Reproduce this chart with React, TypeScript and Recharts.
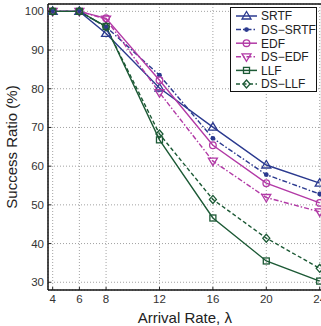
import React from 'react';
import { LineChart, Line, XAxis, YAxis, CartesianGrid, ReferenceLine } from 'recharts';

const lambdas = [4, 6, 8, 12, 16, 20, 24];
const srtf = [100, 100, 94.3, 80.2, 70.1, 60.3, 55.6];
const dsSrtf = [100, 100, 96, 83.5, 67.2, 57.8, 52.8];
const edf = [100, 100, 98.2, 82.2, 65.4, 55.6, 50.5];
const dsEdf = [100, 100, 98, 79, 61.3, 51.9, 48.2];
const llf = [100, 100, 96.1, 66.8, 46.6, 35.5, 30.3];
const dsLlf = [100, 100, 96, 68.3, 51.4, 41.4, 33.6];

const xTicks = [4, 6, 8, 12, 16, 20, 24];
const yTicks = [30, 40, 50, 60, 70, 80, 90, 100];
const X_MIN = 3.65;
const X_MAX = 24.15;
const Y_MIN = 28;
const Y_MAX = 101.9;

const NAVY = '#2b3a8f';
const MAGENTA = '#b23aa6';
const GREEN = '#1d5a36';
const FONT = '"Liberation Sans", Arial, sans-serif';

const data = lambdas.map((l, i) => ({
  lambda: l,
  srtf: srtf[i],
  dsSrtf: dsSrtf[i],
  edf: edf[i],
  dsEdf: dsEdf[i],
  llf: llf[i],
  dsLlf: dsLlf[i],
}));

type Shape = 'triUp' | 'dot' | 'circle' | 'triDown' | 'square' | 'diamond';

function Marker({ cx, cy, shape, color }: { cx: number; cy: number; shape: Shape; color: string }) {
  const sw = 1.3;
  switch (shape) {
    case 'triUp':
      return <polygon points={`${cx},${cy - 4.5} ${cx - 4.5},${cy + 3} ${cx + 4.5},${cy + 3}`} fill="none" stroke={color} strokeWidth={sw} />;
    case 'triDown':
      return <polygon points={`${cx},${cy + 4.5} ${cx - 4.5},${cy - 3} ${cx + 4.5},${cy - 3}`} fill="none" stroke={color} strokeWidth={sw} />;
    case 'dot':
      return <circle cx={cx} cy={cy} r={2.4} fill={color} stroke="none" />;
    case 'circle':
      return <circle cx={cx} cy={cy} r={3.3} fill="none" stroke={color} strokeWidth={sw} />;
    case 'square':
      return <rect x={cx - 3} y={cy - 3} width={6} height={6} fill="none" stroke={color} strokeWidth={sw} />;
    case 'diamond':
      return <polygon points={`${cx},${cy - 4} ${cx + 3.5},${cy} ${cx},${cy + 4} ${cx - 3.5},${cy}`} fill="none" stroke={color} strokeWidth={sw} />;
  }
  return null;
}

const makeDot = (shape: Shape, color: string) => (props: any) => {
  const { cx, cy, index } = props;
  if (cx == null || cy == null) return <g key={index} />;
  return (
    <g key={`${shape}-${index}`}>
      <Marker cx={cx} cy={cy} shape={shape} color={color} />
    </g>
  );
};

function XTick(props: any) {
  const { x, y, payload } = props;
  return (
    <g>
      <line x1={x} y1={y} x2={x} y2={y - 3} stroke="#222" strokeWidth={1} />
      <text x={x} y={y + 12.5} textAnchor="middle" fontSize={11.5} fill="#333" fontFamily={FONT}>
        {payload.value}
      </text>
    </g>
  );
}

function YTick(props: any) {
  const { x, y, payload } = props;
  return (
    <g>
      <line x1={x} y1={y} x2={x + 3} y2={y} stroke="#222" strokeWidth={1} />
      <text x={x - 4} y={y + 4} textAnchor="end" fontSize={11.5} fill="#333" fontFamily={FONT}>
        {payload.value}
      </text>
    </g>
  );
}

const legendItems: { name: string; color: string; dash?: string; shape: Shape }[] = [
  { name: 'SRTF', color: NAVY, shape: 'triUp' },
  { name: 'DS−SRTF', color: NAVY, dash: '5 2 1.5 2', shape: 'dot' },
  { name: 'EDF', color: MAGENTA, shape: 'circle' },
  { name: 'DS−EDF', color: MAGENTA, dash: '5 2 1.5 2', shape: 'triDown' },
  { name: 'LLF', color: GREEN, shape: 'square' },
  { name: 'DS−LLF', color: GREEN, dash: '4 2.5', shape: 'diamond' },
];

function ChartLegend() {
  return (
    <div
      style={{
        position: 'absolute',
        left: 230,
        top: 7,
        width: 87,
        height: 85,
        background: '#fff',
        border: '1px solid #111',
        boxSizing: 'border-box',
      }}
    >
      <svg width={87} height={85} style={{ position: 'absolute', left: -1, top: -1 }}>
        {legendItems.map((it, i) => {
          const cy = 9 + i * 13.6;
          return (
            <g key={it.name}>
              <line x1={6} y1={cy} x2={27} y2={cy} stroke={it.color} strokeWidth={1.5} strokeDasharray={it.dash} />
              <Marker cx={16.5} cy={cy} shape={it.shape} color={it.color} />
              <text x={31} y={cy + 4.3} fontSize={12} fill="#222" fontFamily={FONT}>
                {it.name}
              </text>
            </g>
          );
        })}
      </svg>
    </div>
  );
}

export default function App() {
  return (
    <div
      style={{
        position: 'absolute',
        left: 0,
        top: 0,
        width: 321,
        height: 326,
        overflow: 'hidden',
        background: '#fff',
        fontFamily: FONT,
      }}
    >
      <LineChart
        width={340}
        height={326}
        data={data}
        margin={{ top: 4, right: 18.3, left: 0, bottom: 0 }}
      >
        <CartesianGrid stroke="#8a8a8a" strokeDasharray="1 2" strokeWidth={0.8} />
        <XAxis
          dataKey="lambda"
          type="number"
          domain={[X_MIN, X_MAX]}
          ticks={xTicks}
          allowDataOverflow
          height={36}
          tickLine={false}
          tickSize={0}
          tickMargin={0}
          axisLine={{ stroke: '#111', strokeWidth: 1.5 }}
          tick={<XTick />}
          label={{ value: 'Arrival Rate, λ', position: 'insideBottom', offset: 3, fontSize: 15, fill: '#222', fontFamily: FONT }}
        />
        <YAxis
          type="number"
          domain={[Y_MIN, Y_MAX]}
          ticks={yTicks}
          allowDataOverflow
          width={48}
          tickLine={false}
          tickSize={0}
          tickMargin={0}
          axisLine={{ stroke: '#111', strokeWidth: 1.5 }}
          tick={<YTick />}
          label={{ value: 'Success Ratio (%)', angle: -90, position: 'insideLeft', offset: 12, fontSize: 15, fill: '#222', fontFamily: FONT, style: { textAnchor: 'middle' } }}
        />
        <ReferenceLine y={Y_MAX} stroke="#111" strokeWidth={1.5} />
        <ReferenceLine x={X_MAX} stroke="#111" strokeWidth={1.5} />
        <Line dataKey="srtf" stroke={NAVY} strokeWidth={1.4} dot={makeDot('triUp', NAVY)} isAnimationActive={false} />
        <Line dataKey="dsSrtf" stroke={NAVY} strokeWidth={1.4} strokeDasharray="5 2 1.5 2" dot={makeDot('dot', NAVY)} isAnimationActive={false} />
        <Line dataKey="edf" stroke={MAGENTA} strokeWidth={1.4} dot={makeDot('circle', MAGENTA)} isAnimationActive={false} />
        <Line dataKey="dsEdf" stroke={MAGENTA} strokeWidth={1.4} strokeDasharray="5 2 1.5 2" dot={makeDot('triDown', MAGENTA)} isAnimationActive={false} />
        <Line dataKey="llf" stroke={GREEN} strokeWidth={1.4} dot={makeDot('square', GREEN)} isAnimationActive={false} />
        <Line dataKey="dsLlf" stroke={GREEN} strokeWidth={1.4} strokeDasharray="4 2.5" dot={makeDot('diamond', GREEN)} isAnimationActive={false} />
      </LineChart>
      <ChartLegend />
    </div>
  );
}
